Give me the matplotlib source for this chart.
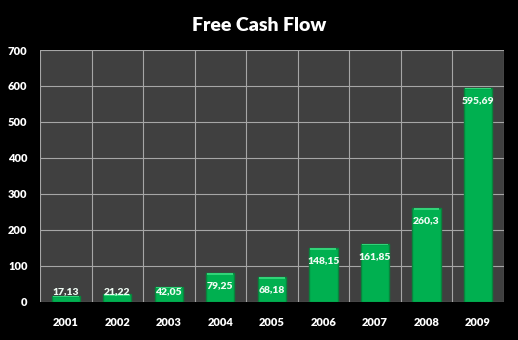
import matplotlib
matplotlib.use("Agg")
import matplotlib.pyplot as plt

years = ["2001", "2002", "2003", "2004", "2005", "2006", "2007", "2008", "2009"]
fcf = [17.13, 21.22, 42.05, 79.25, 68.18, 148.15, 161.85, 260.3, 595.69]
value_labels = ["17,13", "21,22", "42,05", "79,25", "68,18", "148,15", "161,85", "260,3", "595,69"]
yticks = [0, 100, 200, 300, 400, 500, 600, 700]

plt.rcParams['font.family'] = ['Lato', 'DejaVu Sans']

fig = plt.figure(figsize=(5.18, 3.40), dpi=100, facecolor="black")
ax = fig.add_axes([0.0772, 0.1126, 0.8952, 0.7403])
ax.set_facecolor("#404040")

x = list(range(len(years)))
ax.bar(x, fcf, width=0.55, color="#00b050", edgecolor="#08843c", linewidth=1.0, zorder=3)

# lighter cap on each bar
for xi, v in zip(x, fcf):
    h = min(4, v)
    ax.bar(xi, h, bottom=v - h, width=0.5, color="#30d478", linewidth=0, zorder=4)

for xi, v, lab in zip(x, fcf, value_labels):
    ax.text(xi, max(v - 35, 29), lab, ha="center", va="center", color="#eefaf2",
            fontsize=7.5, fontweight="heavy", zorder=5)

ax.set_xlim(-0.5, len(years) - 0.5)
ax.set_ylim(0, 700)
ax.set_yticks(yticks)
ax.set_yticklabels([str(t) for t in yticks])
ax.set_xticks(x)
ax.set_xticklabels(years)

# gridlines: horizontal at ticks, vertical at category boundaries
for t in yticks:
    ax.axhline(t, color="#a6a6a6", linewidth=0.8, zorder=1)
for b in range(len(years) + 1):
    ax.axvline(b - 0.5, color="#a6a6a6", linewidth=0.8, zorder=1)

for s in ax.spines.values():
    s.set_visible(False)
ax.tick_params(axis="both", length=0, colors="white", labelsize=8)
ax.tick_params(axis="x", pad=11)
ax.tick_params(axis="y", pad=9)
for lbl in ax.get_xticklabels() + ax.get_yticklabels():
    lbl.set_fontweight("heavy")

fig.text(0.5, 0.925, "Free Cash Flow", ha="center", va="center", color="white",
         fontsize=14, fontweight="heavy")

fig.savefig("out.png", dpi=100, facecolor="black")
